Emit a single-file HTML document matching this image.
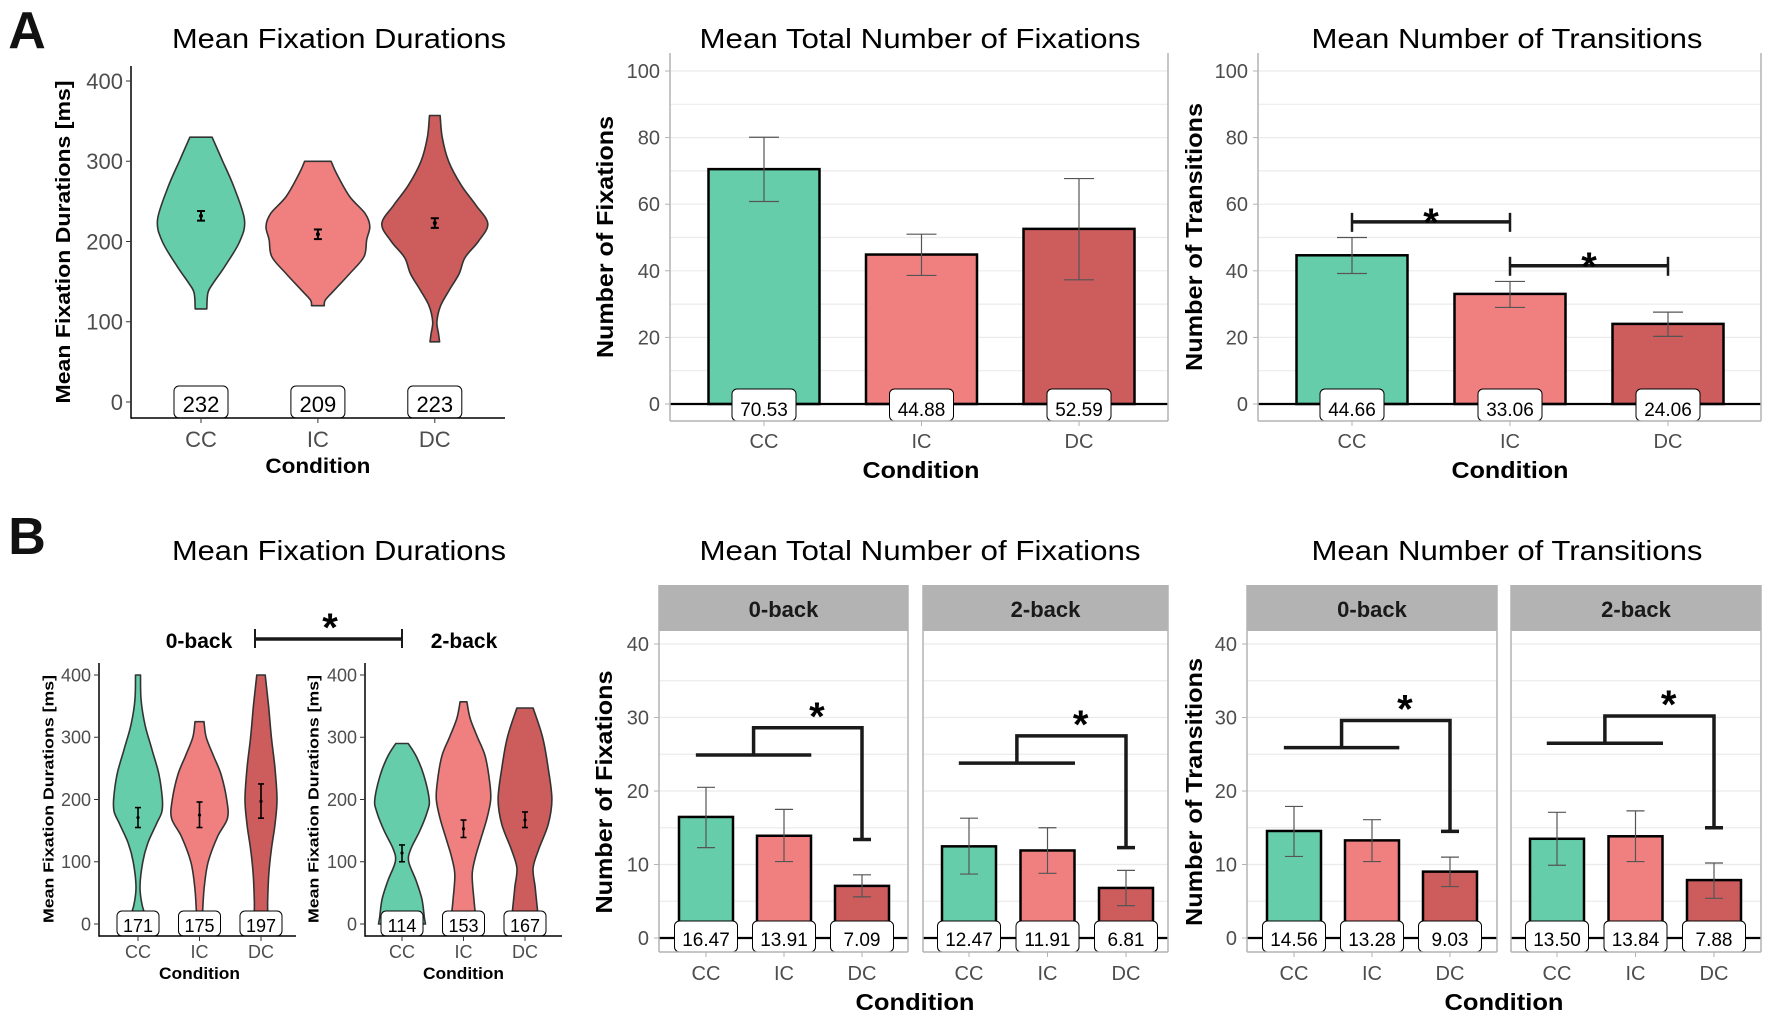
<!DOCTYPE html>
<html><head><meta charset="utf-8"><style>
html,body{margin:0;padding:0;background:#fff;width:1770px;height:1021px;overflow:hidden}
svg{display:block}
</style></head><body>
<svg id="fig" xmlns="http://www.w3.org/2000/svg" width="1770" height="1021" viewBox="0 0 1770 1021">
<rect x="0" y="0" width="1770" height="1021" fill="#fff"/>
</svg>
<script>
// ---------- DATA ----------
const cats = ['CC', 'IC', 'DC'];
const a1Means = [232, 209, 223];
const a1Err = [6, 6, 6];
const a1ViolinCC = [[330,0.21],[300,0.41],[268,0.62],[227,0.82],[200,0.73],[169,0.45],[148,0.23],[136,0.13],[116,0.11]];
const a1ViolinIC = [[300,0.25],[285,0.35],[256,0.60],[235,0.89],[219,0.98],[202,0.92],[181,0.87],[160,0.60],[140,0.32],[127,0.14],[120,0.12]];
const a1ViolinDC = [[357,0.10],[330,0.14],[300,0.26],[270,0.50],[245,0.78],[222,1.0],[200,0.82],[180,0.57],[160,0.46],[140,0.28],[120,0.11],[100,0.04],[85,0.07],[75,0.09]];
const a1Ticks = [0, 100, 200, 300, 400];
const b1Means0 = [171, 175, 197];
const b1Lo0 = [155, 155, 170];
const b1Hi0 = [187, 196, 225];
const b1Means2 = [114, 153, 167];
const b1Lo2 = [100, 139, 155];
const b1Hi2 = [127, 167, 180];
const b1ViolinCC0 = [[400,0.09],[360,0.11],[320,0.25],[280,0.50],[240,0.75],[200,0.87],[180,0.85],[160,0.65],[130,0.35],[100,0.17],[60,0.07],[30,0.15],[10,0.30]];
const b1ViolinIC0 = [[325,0.16],[300,0.24],[270,0.50],[240,0.77],[200,0.97],[170,1.0],[140,0.64],[100,0.31],[60,0.17],[20,0.11]];
const b1ViolinDC0 = [[400,0.15],[350,0.27],[300,0.37],[250,0.50],[200,0.57],[160,0.50],[120,0.37],[80,0.28],[40,0.24],[20,0.24]];
const b1ViolinCC2 = [[290,0.22],[270,0.50],[240,0.77],[200,0.97],[180,0.90],[150,0.64],[120,0.31],[100,0.24],[70,0.50],[40,0.71],[10,0.80],[0,0.84]];
const b1ViolinIC2 = [[357,0.12],[330,0.24],[300,0.50],[270,0.77],[230,0.93],[200,0.97],[170,0.84],[140,0.64],[110,0.44],[80,0.31],[40,0.37],[10,0.44]];
const b1ViolinDC2 = [[347,0.29],[300,0.63],[250,0.83],[200,0.96],[160,0.83],[120,0.49],[90,0.29],[60,0.36],[30,0.43],[10,0.47]];
const a2Vals = [70.53, 44.88, 52.59];
const a2Lo = [60.8, 38.6, 37.3];
const a2Hi = [80.1, 51.0, 67.7];
const a3Vals = [44.66, 33.06, 24.06];
const a3Lo = [39.2, 29.0, 20.3];
const a3Hi = [50.0, 36.8, 27.6];
const a3SigLevels = [54.7, 41.5];
const aTicks = [0, 20, 40, 60, 80, 100];
const b2Vals0 = [16.47, 13.91, 7.09];
const b2Lo0 = [12.3, 10.4, 5.6];
const b2Hi0 = [20.5, 17.5, 8.6];
const b2Vals2 = [12.47, 11.91, 6.81];
const b2Lo2 = [8.7, 8.8, 4.4];
const b2Hi2 = [16.3, 15.0, 9.2];
const b2Sig0 = [24.9, 28.6, 13.4];
const b2Sig2 = [23.8, 27.5, 12.3];
const b3Vals0 = [14.56, 13.28, 9.03];
const b3Lo0 = [11.1, 10.4, 7.0];
const b3Hi0 = [17.9, 16.1, 11.0];
const b3Vals2 = [13.50, 13.84, 7.88];
const b3Lo2 = [9.9, 10.4, 5.4];
const b3Hi2 = [17.1, 17.3, 10.2];
const b3Sig0 = [25.9, 29.6, 14.5];
const b3Sig2 = [26.5, 30.2, 15.0];
const bTicks = [0, 10, 20, 30, 40];

// ---------- HELPERS ----------
const NS = 'http://www.w3.org/2000/svg';
const svg = document.getElementById('fig');
const FILLS = ['#66CDAA', '#F08080', '#CD5C5C'];
const FONT = '"Liberation Sans", Arial, sans-serif';
function mk(tag, parent) { const e = document.createElementNS(NS, tag); parent.appendChild(e); return e; }
function at(e, o) { for (const k in o) e.setAttribute(k, o[k]); return e; }
function text(parent, x, y, s, size, weight, fill, anchor, name, len) {
  const e = mk('text', parent);
  at(e, {x: x, y: y, 'font-size': size, 'font-weight': weight || 'normal', fill: fill || '#000', 'text-anchor': anchor || 'middle', 'font-family': FONT});
  if (len) at(e, {textLength: len, lengthAdjust: 'spacingAndGlyphs'});
  e.textContent = s;
  
  
  return e;
}
function line(parent, x1, y1, x2, y2, stroke, w, name) {
  const e = mk('line', parent);
  at(e, {x1: x1, y1: y1, x2: x2, y2: y2, stroke: stroke, 'stroke-width': w});
  
  
  return e;
}
function ytitle(parent, x, cy, s, size, len, name) {
  const e = text(parent, 0, 0, s, size, 'bold', '#000', 'middle', name, len);
  at(e, {transform: 'translate(' + x + ',' + cy + ') rotate(-90)', 'dominant-baseline': 'central'});
  return e;
}
function labelBox(parent, cx, yTop, yBot, w, s, size, baseline, name) {
  const r = mk('rect', parent);
  at(r, {x: cx - w / 2, y: yTop, width: w, height: yBot - yTop, rx: 5, fill: '#fff', stroke: '#000', 'stroke-width': 1});
  
  
  text(parent, cx, baseline, s, size, 'normal', '#000', 'middle', name);
}
function star(parent, x, y, size, name) { return text(parent, x, y, '*', size, 'bold', '#000', 'middle', name); }

function violin(parent, cx, yScale, hw, prof, fill, name) {
  const right = prof.map(p => [cx + p[1] * hw, yScale(p[0])]);
  const left = prof.slice().reverse().map(p => [cx - p[1] * hw, yScale(p[0])]);
  const e = mk('path', parent);
  function cr(arr) {
    let d = '';
    for (let i = 0; i < arr.length - 1; i++) {
      const p0 = arr[Math.max(0, i - 1)], p1 = arr[i], p2 = arr[i + 1], p3 = arr[Math.min(arr.length - 1, i + 2)];
      const c1 = [p1[0] + (p2[0] - p0[0]) / 6, p1[1] + (p2[1] - p0[1]) / 6];
      const c2 = [p2[0] - (p3[0] - p1[0]) / 6, p2[1] - (p3[1] - p1[1]) / 6];
      d += ' C' + c1[0].toFixed(1) + ',' + c1[1].toFixed(1) + ' ' + c2[0].toFixed(1) + ',' + c2[1].toFixed(1) + ' ' + p2[0].toFixed(1) + ',' + p2[1].toFixed(1);
    }
    return d;
  }
  let d = 'M' + (cx - prof[0][1] * hw).toFixed(1) + ',' + yScale(prof[0][0]).toFixed(1) + ' L' + right[0][0].toFixed(1) + ',' + right[0][1].toFixed(1);
  d += cr(right);
  d += ' L' + left[0][0].toFixed(1) + ',' + left[0][1].toFixed(1);
  d += cr(left) + ' Z';
  at(e, {d: d, fill: fill, stroke: '#333', 'stroke-width': 1.6, 'stroke-linejoin': 'round'});
  
  
}

function violinPanel(c) {
  const g = mk('g', svg);
  
  
  const ys = v => c.y0 - v * c.k;
  const cx = i => c.c0 + i * c.step;
  c.profiles.forEach((p, i) => violin(g, cx(i), ys, c.hw, p, FILLS[i], 'violin-' + cats[i].toLowerCase()));
  c.means.forEach((m, i) => {
    line(g, cx(i), ys(c.lo[i]), cx(i), ys(c.hi[i]), '#000', c.ew, 'error-bar-' + cats[i].toLowerCase());
    line(g, cx(i) - c.cap, ys(c.lo[i]), cx(i) + c.cap, ys(c.lo[i]), '#000', c.ew, 'error-cap-low');
    line(g, cx(i) - c.cap, ys(c.hi[i]), cx(i) + c.cap, ys(c.hi[i]), '#000', c.ew, 'error-cap-high');
    const d = mk('circle', g);
    at(d, {cx: cx(i), cy: ys(m), r: c.ew, fill: '#000'});
    
    
    labelBox(g, cx(i), c.boxTop, c.axisY, c.boxW, String(m), c.boxFont, c.boxBase, 'mean-label-' + cats[i].toLowerCase());
  });
  line(g, c.axX, c.axTop, c.axX, c.axisY + 0.7, '#000', 1.5, 'y-axis-line');
  line(g, c.axX, c.axisY, c.axRight, c.axisY, '#000', 1.5, 'x-axis-line');
  c.ticks.forEach(t => {
    line(g, c.axX - 5, ys(t), c.axX, ys(t), '#333', 1, 'y-tick');
    text(g, c.axX - 8, ys(t) + c.tickFont * 0.36, String(t), c.tickFont, 'normal', '#4d4d4d', 'end', 'y-tick-label');
  });
  cats.forEach((s, i) => {
    line(g, cx(i), c.axisY, cx(i), c.axisY + 5, '#333', 1, 'x-tick');
    text(g, cx(i), c.catY, s, c.catFont, 'normal', '#4d4d4d', 'middle', 'x-tick-label');
  });
  text(g, cx(1), c.condY, 'Condition', c.condFont, 'bold', '#000', 'middle', 'x-axis-title', c.condLen);
  ytitle(g, c.ytX, c.ytY, 'Mean Fixation Durations [ms]', c.ytFont, c.ytLen, 'y-axis-title');
}

function barPanel(c) {
  const g = mk('g', svg);
  
  
  const ys = v => c.y0 - v * c.k;
  const cx = i => c.c0 + i * c.step;
  for (let v = c.ticks[0]; v <= c.ticks[c.ticks.length - 1]; v += (c.ticks[1] - c.ticks[0]) / 2) {
    line(g, c.left, ys(v), c.right, ys(v), '#ebebeb', 1.2, 'grid-line');
  }
  c.vals.forEach((v, i) => {
    const r = mk('rect', g);
    at(r, {x: cx(i) - c.barW / 2, y: ys(v), width: c.barW, height: ys(0) - ys(v), fill: FILLS[i], stroke: '#000', 'stroke-width': 2.5});
    
    
  });
  c.vals.forEach((v, i) => {
    line(g, cx(i), ys(c.lo[i]), cx(i), ys(c.hi[i]), '#555', 1.2, 'error-bar-' + cats[i].toLowerCase());
    line(g, cx(i) - c.cap, ys(c.lo[i]), cx(i) + c.cap, ys(c.lo[i]), '#555', 1.2, 'error-cap-low');
    line(g, cx(i) - c.cap, ys(c.hi[i]), cx(i) + c.cap, ys(c.hi[i]), '#555', 1.2, 'error-cap-high');
  });
  line(g, c.left, ys(0), c.right, ys(0), '#000', 2.2, 'zero-line');
  c.vals.forEach((v, i) => labelBox(g, cx(i), c.boxTop, c.bottom, c.boxW, v.toFixed(2), c.boxFont, c.boxBase, 'value-label-' + cats[i].toLowerCase()));
  line(g, c.left, c.top, c.left, c.bottom, '#b3b3b3', 1.5, 'panel-border-left');
  line(g, c.right, c.top, c.right, c.bottom, '#b3b3b3', 1.5, 'panel-border-right');
  line(g, c.left, c.bottom, c.right, c.bottom, '#b3b3b3', 1.5, 'panel-border-bottom');
  if (c.strip) {
    const s = mk('rect', g);
    at(s, {x: c.left - 0.75, y: c.stripTop, width: c.right - c.left + 1.5, height: c.top - c.stripTop, fill: '#b3b3b3'});
    
    
    text(g, (c.left + c.right) / 2, c.stripBase, c.strip, 22, 'bold', '#1a1a1a', 'middle', 'facet-label');
  }
  if (c.showY) {
    c.ticks.forEach(t => {
      line(g, c.left - 5, ys(t), c.left, ys(t), '#b3b3b3', 1, 'y-tick');
      text(g, c.left - 10, ys(t) + 7, String(t), 20, 'normal', '#4d4d4d', 'end', 'y-tick-label');
    });
  }
  cats.forEach((s, i) => {
    line(g, cx(i), c.bottom, cx(i), c.bottom + 5, '#b3b3b3', 1, 'x-tick');
    text(g, cx(i), c.catY, s, 20, 'normal', '#4d4d4d', 'middle', 'x-tick-label');
  });
  if (c.pairSig) {
    c.pairSig.forEach((lev, j) => {
      const xa = cx(j), xb = cx(j + 1), y = ys(lev);
      line(g, xa, y, xb, y, '#1a1a1a', 3.5, 'significance-bracket');
      line(g, xa, y - 9, xa, y + 10, '#1a1a1a', 2.5, 'bracket-end');
      line(g, xb, y - 9, xb, y + 10, '#1a1a1a', 2.5, 'bracket-end');
      star(g, (xa + xb) / 2, y + 14, 40, 'significance-star');
    });
  }
  if (c.groupSig) {
    const s = c.groupSig;
    const xs = cx(0) - 0.13 * c.step, xe = cx(1) + 0.35 * c.step, xm = (xs + xe) / 2, xd = cx(2);
    const p = mk('path', g);
    at(p, {d: 'M' + xs + ',' + ys(s[0]) + ' L' + xe + ',' + ys(s[0]) + ' M' + xm + ',' + ys(s[0]) + ' L' + xm + ',' + ys(s[1]) + ' L' + xd + ',' + ys(s[1]) + ' L' + xd + ',' + ys(s[2]) + ' M' + (xd - 9) + ',' + ys(s[2]) + ' L' + (xd + 9) + ',' + ys(s[2]), fill: 'none', stroke: '#1a1a1a', 'stroke-width': 3.5});
    
    
    star(g, xm + 0.63 * (xd - xm) - 5, ys(s[1]) + 2, 40, 'significance-star');
  }
}

// ---------- PANEL LETTERS & TITLES ----------
text(svg, 27, 48, 'A', 52, 'bold', '#111', 'middle', 'panel-letter-a');
text(svg, 27, 554, 'B', 52, 'bold', '#111', 'middle', 'panel-letter-b');
text(svg, 339, 48, 'Mean Fixation Durations', 28, 'normal', '#000', 'middle', 'title-a-durations', 334);
text(svg, 920, 48, 'Mean Total Number of Fixations', 28, 'normal', '#000', 'middle', 'title-a-fixations', 441);
text(svg, 1507, 48, 'Mean Number of Transitions', 28, 'normal', '#000', 'middle', 'title-a-transitions', 391);
text(svg, 339, 560, 'Mean Fixation Durations', 28, 'normal', '#000', 'middle', 'title-b-durations', 334);
text(svg, 920, 560, 'Mean Total Number of Fixations', 28, 'normal', '#000', 'middle', 'title-b-fixations', 441);
text(svg, 1507, 560, 'Mean Number of Transitions', 28, 'normal', '#000', 'middle', 'title-b-transitions', 391);

// ---------- A1 ----------
violinPanel({name: 'panel-a-durations', y0: 402, k: 0.8025, c0: 201, step: 116.9, hw: 53,
  profiles: [a1ViolinCC, a1ViolinIC, a1ViolinDC], means: a1Means,
  lo: a1Means.map((m, i) => m - a1Err[i]), hi: a1Means.map((m, i) => m + a1Err[i]),
  ew: 2, cap: 4, boxTop: 386, boxW: 54, boxFont: 22, boxBase: 412,
  axX: 131, axTop: 66, axisY: 418, axRight: 505, ticks: a1Ticks, tickFont: 22,
  catY: 447, catFont: 22, condY: 473, condFont: 21, condLen: 105,
  ytX: 64, ytY: 242, ytFont: 20, ytLen: 323});

// ---------- A2 / A3 ----------
barPanel({name: 'panel-a-fixations', left: 670, right: 1168, top: 53, bottom: 421, y0: 404, k: 3.33,
  ticks: aTicks, c0: 764, step: 157.5, barW: 111, cap: 15, vals: a2Vals, lo: a2Lo, hi: a2Hi,
  boxTop: 389, boxW: 64, boxFont: 19, boxBase: 416, showY: true, catY: 448});
barPanel({name: 'panel-a-transitions', left: 1258, right: 1761, top: 53, bottom: 421, y0: 404, k: 3.33,
  ticks: aTicks, c0: 1352, step: 158, barW: 111, cap: 15, vals: a3Vals, lo: a3Lo, hi: a3Hi,
  boxTop: 389, boxW: 64, boxFont: 19, boxBase: 416, showY: true, catY: 448, pairSig: a3SigLevels});
const gA = mk('g', svg);


ytitle(gA, 605, 237, 'Number of Fixations', 23, 242, 'y-axis-title-fixations');
ytitle(gA, 1194, 237, 'Number of Transitions', 23, 268, 'y-axis-title-transitions');
text(gA, 921, 478, 'Condition', 23, 'bold', '#000', 'middle', 'x-axis-title-fixations', 117);
text(gA, 1510, 478, 'Condition', 23, 'bold', '#000', 'middle', 'x-axis-title-transitions', 117);

// ---------- B1 ----------
const gB1 = mk('g', svg);


text(gB1, 199, 648, '0-back', 21, 'bold', '#000', 'middle', 'facet-label-0back');
text(gB1, 464, 648, '2-back', 21, 'bold', '#000', 'middle', 'facet-label-2back');
line(gB1, 255, 639, 402, 639, '#1a1a1a', 3.5, 'significance-bracket');
line(gB1, 255, 629, 255, 648, '#1a1a1a', 2, 'bracket-end');
line(gB1, 402, 629, 402, 648, '#1a1a1a', 2, 'bracket-end');
star(gB1, 330, 641, 40, 'significance-star');
const bViolinBase = {y0: 924, k: 0.6225, step: 61.5, hw: 28, ew: 1.6, cap: 3,
  boxTop: 911, boxW: 42, boxFont: 18, boxBase: 932, axTop: 663, axisY: 936, ticks: a1Ticks, tickFont: 18,
  catY: 958, catFont: 18, condY: 979, condFont: 17, condLen: 81, ytFont: 15, ytLen: 248, ytY: 799};
violinPanel(Object.assign({}, bViolinBase, {name: 'panel-b-durations-0back', c0: 138, axX: 99, axRight: 296, ytX: 49,
  profiles: [b1ViolinCC0, b1ViolinIC0, b1ViolinDC0], means: b1Means0, lo: b1Lo0, hi: b1Hi0}));
violinPanel(Object.assign({}, bViolinBase, {name: 'panel-b-durations-2back', c0: 402, axX: 365, axRight: 562, ytX: 314,
  profiles: [b1ViolinCC2, b1ViolinIC2, b1ViolinDC2], means: b1Means2, lo: b1Lo2, hi: b1Hi2}));

// ---------- B2 / B3 ----------
const bBase = {top: 631, bottom: 952, stripTop: 585, stripBase: 617, y0: 938, k: 7.35, ticks: bTicks,
  barW: 54, cap: 9, boxTop: 921, boxW: 63, boxFont: 19, boxBase: 946, catY: 980};
barPanel(Object.assign({}, bBase, {name: 'panel-b-fixations-0back', left: 659, right: 908, c0: 706, step: 78,
  vals: b2Vals0, lo: b2Lo0, hi: b2Hi0, strip: '0-back', showY: true, groupSig: b2Sig0}));
barPanel(Object.assign({}, bBase, {name: 'panel-b-fixations-2back', left: 923, right: 1168, c0: 969, step: 78.5,
  vals: b2Vals2, lo: b2Lo2, hi: b2Hi2, strip: '2-back', showY: false, groupSig: b2Sig2}));
barPanel(Object.assign({}, bBase, {name: 'panel-b-transitions-0back', left: 1247, right: 1497, c0: 1294, step: 78,
  vals: b3Vals0, lo: b3Lo0, hi: b3Hi0, strip: '0-back', showY: true, groupSig: b3Sig0}));
barPanel(Object.assign({}, bBase, {name: 'panel-b-transitions-2back', left: 1511, right: 1761, c0: 1557, step: 78.5,
  vals: b3Vals2, lo: b3Lo2, hi: b3Hi2, strip: '2-back', showY: false, groupSig: b3Sig2}));
const gB = mk('g', svg);


ytitle(gB, 604, 792, 'Number of Fixations', 23, 243, 'y-axis-title-fixations');
ytitle(gB, 1194, 792, 'Number of Transitions', 23, 268, 'y-axis-title-transitions');
text(gB, 915, 1010, 'Condition', 23, 'bold', '#000', 'middle', 'x-axis-title-fixations', 119);
text(gB, 1504, 1010, 'Condition', 23, 'bold', '#000', 'middle', 'x-axis-title-transitions', 119);
</script>
</body></html>
